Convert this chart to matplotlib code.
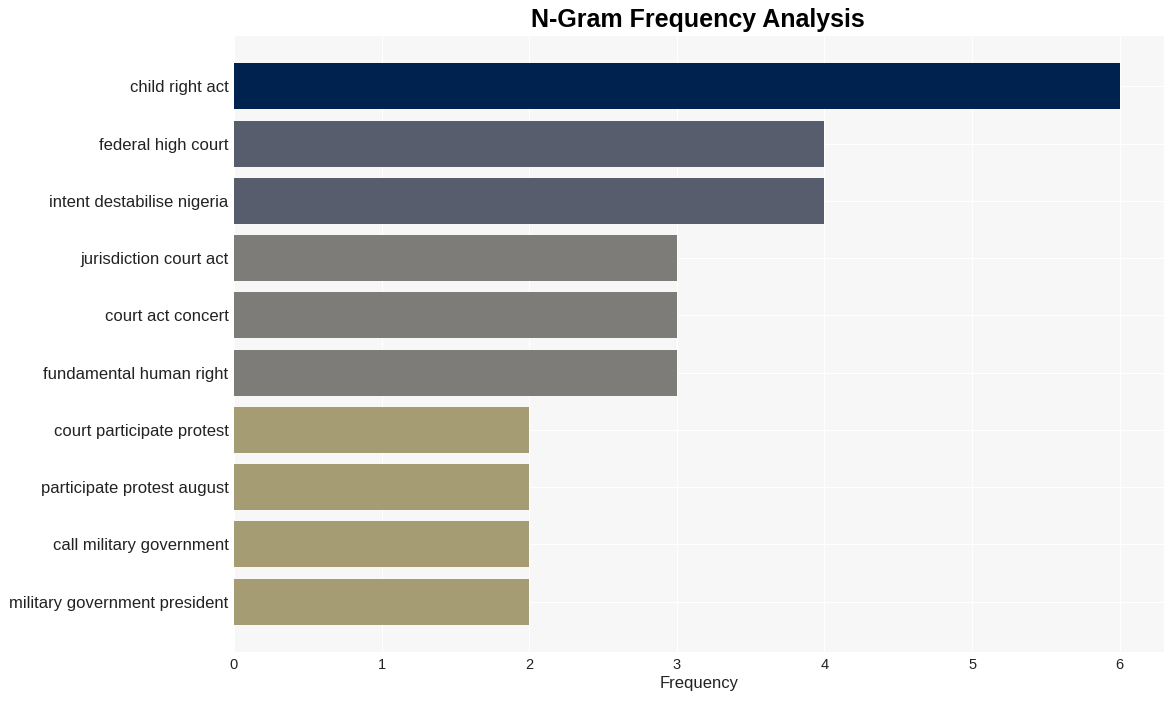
import matplotlib
matplotlib.use("Agg")
import matplotlib.pyplot as plt

plt.rcParams['font.family'] = ['Liberation Sans', 'DejaVu Sans']

ngrams = ["child right act", "federal high court", "intent destabilise nigeria",
          "jurisdiction court act", "court act concert", "fundamental human right",
          "court participate protest", "participate protest august",
          "call military government", "military government president"]
counts = [6, 4, 4, 3, 3, 3, 2, 2, 2, 2]
colors = ["#00224e", "#575d6d", "#575d6d", "#7d7c78", "#7d7c78", "#7d7c78",
          "#a59c74", "#a59c74", "#a59c74", "#a59c74"]

fig = plt.figure(figsize=(11.73, 7.01), dpi=100)
ax = fig.add_axes([234 / 1173, 1 - 652 / 701, (1164 - 234) / 1173, (652 - 36) / 701])
ax.set_facecolor("#f7f7f7")

y = list(range(len(ngrams)))
ax.barh(y, counts, height=0.8, color=colors, zorder=2)
ax.set_yticks(y)
ax.set_yticklabels(ngrams, fontsize=12, color="#222222")
ax.set_ylim(9.88, -0.88)
ax.set_xlim(0, 6.3)
ax.set_xticks(range(7))
ax.tick_params(axis="x", labelsize=10.5, length=0, pad=4, colors="#222222")
ax.tick_params(axis="y", length=0, pad=4)
ax.grid(True, color="white", linewidth=0.8, zorder=1)
for s in ax.spines.values():
    s.set_visible(False)
ax.set_xlabel("Frequency", fontsize=12, color="#222222", labelpad=3)
fig.text(698 / 1173, 1 - 20 / 701, "N-Gram Frequency Analysis", fontsize=18,
         fontweight="bold", ha="center", va="center")

fig.savefig("out.png", dpi=100)
